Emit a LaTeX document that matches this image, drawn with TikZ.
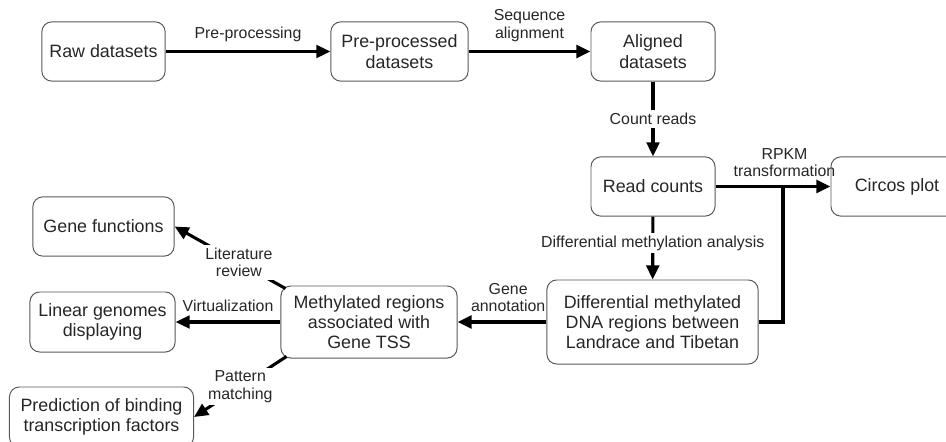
\documentclass[tikz,border=0pt]{standalone}
\usepackage{fontspec}
\setmainfont{Liberation Sans}
\usetikzlibrary{arrows.meta}

\begin{document}
\begin{tikzpicture}
[
  x=0.025cm, y=-0.025cm,
	box/.style={draw=black!65,line width=0.7pt,rounded corners=7pt,align=center,text=black!85,font=\fontsize{12.7}{14.4}\selectfont},
	lbl/.style={align=center,text=black!85,font=\fontsize{11.3}{12.3}\selectfont,inner sep=1pt},
	gap/.style={lbl,fill=white,inner sep=2pt},
	flow/.style={line width=2.2pt,-{Triangle[length=10pt,width=9pt]}},
	link/.style={line width=2.2pt}
]

\clip (0,0) rectangle (946,441);

\node[box,minimum width=3.08cm,minimum height=1.48cm] (raw) at (103.5,51.5) {Raw datasets};
\node[box,minimum width=3.43cm,minimum height=1.48cm] (pre) at (399.5,51.5) {Pre-processed\\datasets};
\node[box,minimum width=3.1cm,minimum height=1.48cm] (aligned) at (653,51.5) {Aligned\\datasets};
\node[box,minimum width=3.1cm,minimum height=1.48cm] (counts) at (653,186.5) {Read counts};
\node[box,minimum width=3.3cm,minimum height=1.48cm] (circos) at (897,186.5) {Circos plot};
\node[box,minimum width=5.28cm,minimum height=2.1cm] (diff) at (652.5,322) {Differential methylated\\DNA regions between\\Landrace and Tibetan};
\node[box,minimum width=4.4cm,minimum height=1.8cm] (meth) at (369,322) {Methylated regions\\associated with\\Gene TSS};

\node[box,minimum width=3.53cm,minimum height=1.48cm] (genefun) at (103.5,226.5) {Gene functions};
\node[box,minimum width=3.63cm,minimum height=1.5cm] (linear) at (102.5,322) {Linear genomes\\displaying};
\node[box,minimum width=4.6cm,minimum height=1.5cm] (pred) at (101.5,417) {Prediction of binding\\transcription factors};

\coordinate (junc) at (783,186.5);

% main line
\draw[flow] (raw) -- (pre) node[lbl,midway,above=5pt] {Pre-processing};
\draw[flow] (pre) -- (aligned) node[lbl,midway,above=5pt] {Sequence\\alignment};
\draw[flow] (aligned) -- (counts) node[gap,midway] {Count reads};
\draw[flow] (counts) -- (circos) node[lbl,pos=0.6,above=5pt] {RPKM\\transformation};
\draw[flow] (counts) -- (diff) node[gap,pos=0.42] {Differential methylation analysis};
\draw[link] (diff.east) -| (junc);
\draw[flow] (diff) -- (meth) node[lbl,pos=0.43,above=5pt] {Gene\\annotation};

% downstream analyses
\draw[flow] ([shift={(5,3)}]meth.north west) -- (genefun.east) node[gap,pos=0.42] {Literature\\review};
\draw[flow] (meth) -- (linear) node[lbl,midway,above=5pt] {Virtualization};
\draw[flow] ([shift={(6,-2)}]meth.south west) -- (pred.east) node[gap,midway] {Pattern\\matching};
\end{tikzpicture}
\end{document}
